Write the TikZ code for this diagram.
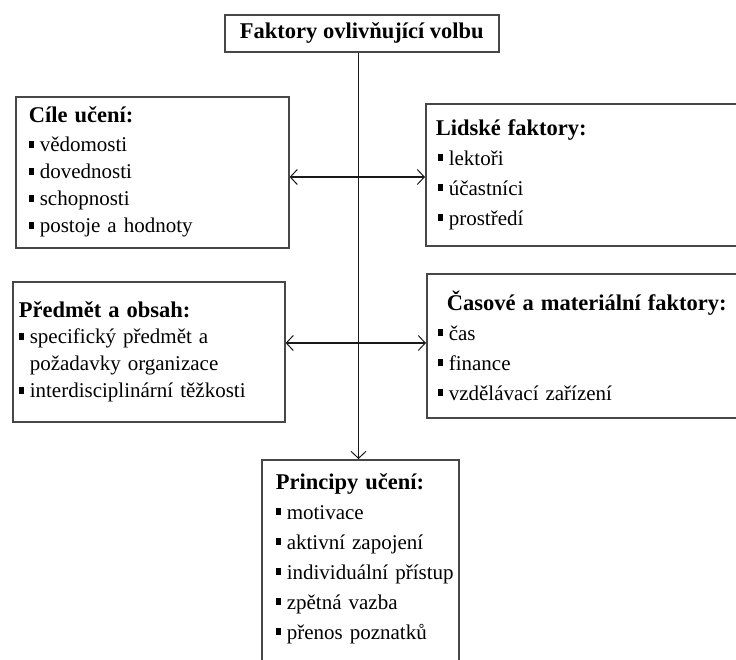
\documentclass[tikz,border=0pt]{standalone}
\usepackage{fontspec}
\setmainfont{Liberation Serif}
\usetikzlibrary{arrows.meta}

\newcommand{\sqb}{\raisebox{4pt}{\rule{5.5pt}{7pt}}\hspace{5.5pt}}
\newcommand{\boxhead}[1]{{\fontsize{22.5}{30}\selectfont\bfseries #1}}

\begin{document}
\begin{tikzpicture}[x=1pt, y=-1pt,
  >={Straight Barb[length=7pt, width=15pt, line width=1pt]},
  factorbox/.style={draw=black!72, line width=1.6pt, fill=white, anchor=north west,
    align=left, inner ysep=0pt, font=\fontsize{21}{27}\selectfont},
  link/.style={line width=1.3pt, black!90}]
  \useasboundingbox (0,0) rectangle (736,659);
  \clip (0,0) rectangle (736,659);

  % boxes
  \node[factorbox, inner xsep=0pt, minimum width=274pt, minimum height=37pt, align=center] (goal) at (224,14) {\boxhead{Faktory ovlivňující volbu}};
  \node[factorbox, inner xsep=13pt, text width=247pt, minimum height=151pt] (aims) at (15,96)
    {\boxhead{Cíle učení:}\\[2pt]
     \sqb vědomosti\\ \sqb dovednosti\\ \sqb schopnosti\\ \sqb postoje a hodnoty};
  \node[factorbox, inner xsep=10pt, text width=300pt, minimum height=142pt, font=\fontsize{21}{30}\selectfont] (human) at (425,103)
    {\boxhead{Lidské faktory:}\\
     \hspace*{2pt}\sqb lektoři\\ \hspace*{2pt}\sqb účastníci\\ \hspace*{2pt}\sqb prostředí};
  \node[factorbox, inner xsep=6pt, text width=260pt, minimum height=140pt] (subject) at (12,281)
    {\boxhead{Předmět a obsah:}\\[-1pt]
     \sqb specifický předmět a\\ \hphantom{\sqb}požadavky organizace\\ \sqb interdisciplinární těžkosti};
  \node[factorbox, inner xsep=11pt, text width=300pt, minimum height=144pt, font=\fontsize{21}{30}\selectfont] (resources) at (426,273)
    {\hspace*{9pt}\boxhead{Časové a materiální faktory:}\\
     \sqb čas\\ \sqb finance\\ \sqb vzdělávací zařízení};
  \node[factorbox, inner xsep=4pt, text width=189pt, minimum height=203pt, font=\fontsize{21}{30}\selectfont] (principles) at (261,459)
    {\hspace*{10pt}\boxhead{Principy učení:}\\
     \hspace*{10pt}\sqb motivace\\ \hspace*{10pt}\sqb aktivní zapojení\\ \hspace*{10pt}\sqb individuální přístup\\
     \hspace*{10pt}\sqb zpětná vazba\\ \hspace*{10pt}\sqb přenos poznatků\\[-20pt]\mbox{}};

  % connectors
  \coordinate (spine) at (358.5,0);
  \coordinate (hub1) at (358.5,177);
  \coordinate (hub2) at (358.5,343);
  \draw[link, ->] (spine |- goal.south) -- (spine |- principles.north);
  \draw[link, <->] (hub1 -| aims.east) -- (hub1 -| human.west);
  \draw[link, <->] (hub2 -| subject.east) -- (hub2 -| resources.west);
\end{tikzpicture}
\end{document}
